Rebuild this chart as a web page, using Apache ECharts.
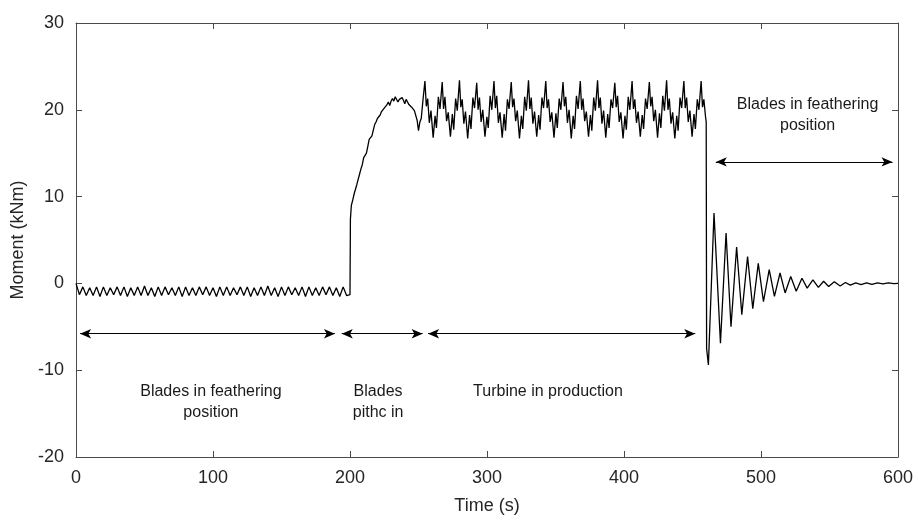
<!DOCTYPE html>
<html>
<head>
<meta charset="utf-8">
<script src="https://cdn.jsdelivr.net/npm/echarts@6/dist/echarts.min.js"></script>
<style>html,body{margin:0;padding:0;background:#fff;}#c{width:918px;height:520px;}</style>
</head>
<body>
<div id="c"></div>
<script>
// ---- Data (time s, moment kNm) ----
const xTicks = [0, 100, 200, 300, 400, 500, 600];
const yTicks = [-20, -10, 0, 10, 20, 30];

const featheringStart = [[0,0],[1,0],[2.5,-1.3],[5,-0.4],[7.5,-1.4],[10,-0.5],[12.5,-1.4],[15,-0.4],[17.5,-1.5],[20,-0.4],[22.5,-1.4],[25,-0.5],[27.5,-1.3],[30,-0.4],[32.5,-1.4],[35,-0.4],[37.5,-1.5],[40,-0.5],[42.5,-1.4],[45,-0.4],[47.5,-1.4],[50,-0.3],[52.5,-1.4],[55,-0.5],[57.5,-1.5],[60,-0.4],[62.5,-1.4],[65,-0.4],[67.5,-1.3],[70,-0.5],[72.5,-1.4],[75,-0.4],[77.5,-1.5],[80,-0.4],[82.5,-1.4],[85,-0.5],[87.5,-1.4],[90,-0.4],[92.5,-1.3],[95,-0.4],[97.5,-1.4],[100,-0.5],[102.5,-1.5],[105,-0.4],[107.5,-1.4],[110,-0.4],[112.5,-1.4],[115,-0.5],[117.5,-1.3],[120,-0.4],[122.5,-1.4],[125,-0.4],[127.5,-1.5],[130,-0.5],[132.5,-1.4],[135,-0.4],[137.5,-1.4],[140,-0.3],[142.5,-1.4],[145,-0.5],[147.5,-1.5],[150,-0.4],[152.5,-1.4],[155,-0.4],[157.5,-1.3],[160,-0.5],[162.5,-1.4],[165,-0.4],[167.5,-1.5],[170,-0.4],[172.5,-1.4],[175,-0.5],[177.5,-1.4],[180,-0.4],[182.5,-1.3],[185,-0.4],[187.5,-1.4],[190,-0.5],[192.5,-1.5],[195,-0.4],[197.5,-1.4],[200,-1.3]];

const pitchIn = [[200.3,7.4],[201,9.0],[202,9.6],[203,10.3],[204,10.5],[205,11.4],[206,11.6],[207,12.6],[208,13.2],[209,13.7],[210,14.5],[211,14.3],[212,15.0],[213,15.8],[214,16.6],[215,16.7],[216,17.0],[217,17.2],[218,18.3],[219,18.6],[220,19.0],[221,18.9],[222,19.4],[223,19.8],[224,19.6],[225,20.2],[226,20.0],[227,20.6],[228,20.9],[229,20.5],[230,21.0],[231,21.3],[232,21.0],[233,21.5],[234,21.3],[235,20.9],[236,21.2],[237,21.0],[238,21.4],[239,21.1],[240,20.7],[241,21.2],[242,20.9],[243,20.6],[244,20.8],[245,20.3],[246,20.4],[247,19.9],[248,19.7],[249,18.8],[250,17.6],[251,18.6],[252,19.0],[253.5,21.5]];

const production = [
[254.7,23.3],[255.7,20.4],[256.7,21.3],[257.9,18.5],[259.1,19.9],[260.7,16.8],[262.1,19.3],[263.1,17.9],[264.5,21.5],[265.7,20.1],
[267.3,23.2],[268.3,20.1],[269.3,21.5],[270.5,18.7],[271.7,19.7],[273.3,16.9],[274.7,19.5],[275.7,17.7],[277.1,21.3],[278.3,19.9],
[279.9,23.4],[280.9,20.3],[281.9,21.2],[283.1,18.4],[284.3,19.8],[285.9,16.7],[287.3,19.4],[288.3,17.8],[289.7,21.4],[290.9,20.2],
[292.5,23.1],[293.5,20.0],[294.5,21.4],[295.7,18.6],[296.9,20.0],[298.5,16.9],[299.9,19.2],[300.9,17.9],[302.3,21.6],[303.5,20.0],
[305.1,23.3],[306.1,20.2],[307.1,21.6],[308.3,18.5],[309.5,19.7],[311.1,16.8],[312.5,19.5],[313.5,17.6],[314.9,21.2],[316.1,20.1],
[317.7,23.2],[318.7,20.3],[319.7,21.3],[320.9,18.7],[322.1,19.9],[323.7,16.7],[325.1,19.3],[326.1,17.8],[327.5,21.5],[328.7,19.9],
[330.3,23.4],[331.3,20.1],[332.3,21.4],[333.5,18.4],[334.7,19.8],[336.3,16.9],[337.7,19.4],[338.7,17.7],[340.1,21.4],[341.3,20.2],
[342.9,23.3],[343.9,20.2],[344.9,21.2],[346.1,18.6],[347.3,19.7],[348.9,16.8],[350.3,19.6],[351.3,17.9],[352.7,21.3],[353.9,20.0],
[355.5,23.2],[356.5,20.4],[357.5,21.5],[358.7,18.5],[359.9,20.0],[361.5,16.7],[362.9,19.3],[363.9,17.8],[365.3,21.6],[366.5,20.1],
[368.1,23.3],[369.1,20.0],[370.1,21.3],[371.3,18.7],[372.5,19.8],[374.1,16.9],[375.5,19.4],[376.5,17.6],[377.9,21.4],[379.1,19.9],
[380.7,23.4],[381.7,20.2],[382.7,21.4],[383.9,18.4],[385.1,19.9],[386.7,16.8],[388.1,19.5],[389.1,17.9],[390.5,21.2],[391.7,20.2],
[393.3,23.1],[394.3,20.3],[395.3,21.6],[396.5,18.6],[397.7,19.7],[399.3,16.7],[400.7,19.3],[401.7,17.7],[403.1,21.5],[404.3,20.0],
[405.9,23.3],[406.9,20.1],[407.9,21.2],[409.1,18.5],[410.3,19.8],[411.9,16.9],[413.3,19.4],[414.3,17.8],[415.7,21.3],[416.9,20.1],
[418.5,23.2],[419.5,20.4],[420.5,21.5],[421.7,18.7],[422.9,20.0],[424.5,16.8],[425.9,19.6],[426.9,17.9],[428.3,21.6],[429.5,19.9],
[431.1,23.4],[432.1,20.0],[433.1,21.3],[434.3,18.4],[435.5,19.7],[437.1,16.7],[438.5,19.3],[439.5,17.6],[440.9,21.4],[442.1,20.2],
[443.7,23.3],[444.7,20.2],[445.7,21.4],[446.9,18.6],[448.1,19.9],[449.7,16.9],[451.1,19.5],[452.1,17.8],[453.5,21.2],[454.7,20.0],
[456.3,23.3],[457.3,20.3],[458.3,21.2],[459.5,19.2],[460.0,18.6]];

const shutdown = [[460.3,-7.5],[461.6,-9.4],[465.7,8.1],[470.4,-6.9],[474.5,5.8],[478.1,-5.0],[482.2,4.2],[486.0,-3.6],[490.2,3.1],[494.0,-2.9],[498.0,2.3],[501.8,-2.1],[506.0,1.6],[509.8,-1.5],[513.9,1.2],[517.6,-1.1],[521.7,0.8],[525.7,-0.9],[529.9,0.6],[533.7,-0.55],[537.9,0.4],[541.9,-0.45],[545.7,0.25],[549.4,-0.35],[553.5,0.2],[557.8,-0.3],[561.6,0.1],[565.2,-0.2],[569.2,0.05],[573.0,-0.15],[577.0,0.05],[581.0,-0.1],[585.0,0.05],[589.0,-0.05],[593.0,0.05],[597.0,-0.02],[600,0.0]];

// annotation arrows: [startTime, endTime, moment]
const arrows = [[3,189,-5.8],[194,253,-5.8],[257,452,-5.8],[467,596,14]];
// annotation texts: [time, moment (top of text), text]
const notes = [
  [98.5, -11.2, 'Blades in feathering\nposition'],
  [220.5, -11.2, 'Blades\npithc in'],
  [344.5, -11.2, 'Turbine in production'],
  [534, 21.8, 'Blades in feathering\nposition']
];

const FONT = 'Liberation Sans, Arial, Helvetica, sans-serif';
const TXT = '#262626';
const AX = '#4a4a4a';

const chart = echarts.init(document.getElementById('c'), null, {renderer: 'canvas'});
const axisCommon = {
  type: 'value',
  axisLine: {show: true, onZero: false, lineStyle: {color: AX, width: 1}},
  axisTick: {show: true, inside: true, length: 6, lineStyle: {color: AX}},
  splitLine: {show: false},
  axisLabel: {color: TXT, fontFamily: FONT, fontSize: 18}
};
chart.setOption({
  animation: false,
  backgroundColor: '#fff',
  grid: {left: 76, right: 20, top: 23, bottom: 63, containLabel: false},
  xAxis: [
    Object.assign({}, axisCommon, {min: xTicks[0], max: xTicks[xTicks.length-1], interval: 100, position: 'bottom',
      name: 'Time (s)', nameLocation: 'middle', nameGap: 40,
      nameTextStyle: {color: TXT, fontFamily: FONT, fontSize: 18},
      axisLabel: {color: TXT, fontFamily: FONT, fontSize: 18, margin: 12}}),
    Object.assign({}, axisCommon, {min: xTicks[0], max: xTicks[xTicks.length-1], interval: 100, position: 'top',
      axisLabel: {show: false}})
  ],
  yAxis: [
    Object.assign({}, axisCommon, {min: yTicks[0], max: yTicks[yTicks.length-1], interval: 10, position: 'left',
      name: 'Moment (kNm)', nameLocation: 'middle', nameGap: 46,
      nameTextStyle: {color: TXT, fontFamily: FONT, fontSize: 18},
      axisLabel: {color: TXT, fontFamily: FONT, fontSize: 18, margin: 12}}),
    Object.assign({}, axisCommon, {min: yTicks[0], max: yTicks[yTicks.length-1], interval: 10, position: 'right',
      axisLabel: {show: false}})
  ],
  series: [
    {
      type: 'line', name: 'Moment', xAxisIndex: 0, yAxisIndex: 0,
      data: [].concat(featheringStart, pitchIn, production, shutdown),
      showSymbol: false, symbol: 'none',
      lineStyle: {color: '#000', width: 1.3},
      silent: true
    },
    {
      type: 'line', name: 'arrows', data: [], symbol: 'none',
      markLine: {
        silent: true, symbol: ['arrow', 'arrow'], symbolSize: [7, 11],
        label: {show: false},
        lineStyle: {color: '#000', width: 1.1, type: 'solid'},
        data: arrows.map(a => [{coord: [a[0], a[2]]}, {coord: [a[1], a[2]]}])
      }
    },
    {
      type: 'scatter', name: 'notes', symbolSize: 0, silent: true,
      itemStyle: {opacity: 1},
      data: notes.map(n => ({value: [n[0], n[1]], text: n[2]})),
      label: {
        show: true, position: 'bottom', distance: 0, opacity: 1,
        formatter: p => p.data.text,
        color: '#1a1a1a', fontFamily: FONT, fontSize: 16, lineHeight: 21, align: 'center'
      }
    }
  ]
});
</script>
</body>
</html>
